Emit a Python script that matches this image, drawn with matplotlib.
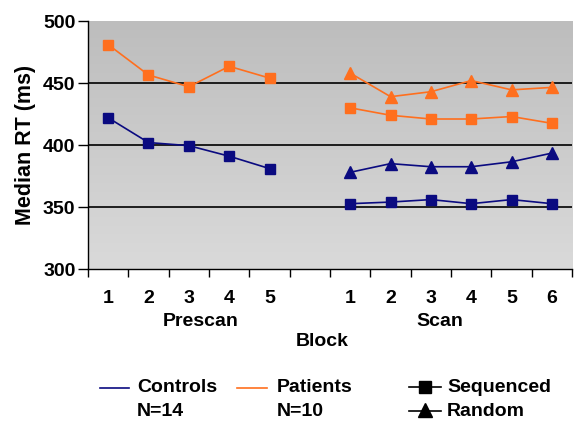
import numpy as np
import matplotlib.pyplot as plt
from matplotlib.lines import Line2D

plt.rcParams['font.family'] = ['Liberation Sans', 'DejaVu Sans']
plt.rcParams['font.weight'] = 'bold'

navy = '#0a0a80'
orange = '#ff6f1e'

# block positions: prescan 1-5, one empty slot, scan 1-6
pre_x = [0, 1, 2, 3, 4]
scan_x = [6, 7, 8, 9, 10, 11]
tick_labels = ['1', '2', '3', '4', '5', '', '1', '2', '3', '4', '5', '6']

controls_prescan = [422, 402, 399.5, 391, 381]
patients_prescan = [481, 456.5, 447, 463.5, 454]
controls_seq = [352.7, 354, 356, 352.7, 356, 352.7]
controls_rand = [378, 385, 382.5, 382.5, 386.5, 393.5]
patients_seq = [430, 424, 421, 421, 423, 417.5]
patients_rand = [458, 439, 443, 452, 444.5, 446.5]

fs = 14

fig = plt.figure(figsize=(5.75, 4.21), dpi=100)
ax = fig.add_axes([0.153, 0.361, 0.842, 0.589])

# grey gradient background
grad = np.linspace(0, 1, 256).reshape(-1, 1)
cmap = plt.matplotlib.colors.LinearSegmentedColormap.from_list('g', ['#bdbdbd', '#dadada'])
ax.imshow(grad, cmap=cmap, extent=[0, 1, 0, 1], transform=ax.transAxes,
          aspect='auto', zorder=0)

for y in [350, 400, 450]:
    ax.axhline(y, color='black', lw=1.2, zorder=1)

ms_sq = 7.5
ms_tri = 9
ax.plot(pre_x, patients_prescan, color=orange, lw=1.2, marker='s', ms=ms_sq, zorder=3)
ax.plot(pre_x, controls_prescan, color=navy, lw=1.2, marker='s', ms=ms_sq, zorder=3)
ax.plot(scan_x, patients_rand, color=orange, lw=1.2, marker='^', ms=ms_tri, zorder=3)
ax.plot(scan_x, patients_seq, color=orange, lw=1.2, marker='s', ms=ms_sq, zorder=3)
ax.plot(scan_x, controls_rand, color=navy, lw=1.2, marker='^', ms=ms_tri, zorder=3)
ax.plot(scan_x, controls_seq, color=navy, lw=1.2, marker='s', ms=ms_sq, zorder=3)

ax.set_xlim(-0.5, 11.5)
ax.set_ylim(300, 500)
ax.set_yticks([300, 350, 400, 450, 500])
ax.tick_params(axis='y', labelsize=fs, length=7, width=1, direction='out', pad=2)
ax.set_xticks(np.arange(-0.5, 12, 1))
ax.set_xticklabels([])
ax.tick_params(axis='x', which='major', length=6, width=1, direction='out')
ax.set_xticks(np.arange(12), minor=True)
ax.set_xticklabels(tick_labels, minor=True)
ax.tick_params(axis='x', which='minor', length=0, labelsize=fs, pad=15)
for s in ['top', 'right']:
    ax.spines[s].set_visible(False)
ax.spines['left'].set_linewidth(1)
ax.spines['bottom'].set_linewidth(1)

ax.set_ylabel('Median RT (ms)', fontsize=15.5, fontweight='bold', labelpad=5)


def fx(px):
    return px / 575


def fy(py):
    return 1 - py / 421


fig.text(fx(201), fy(322), 'Prescan', ha='center', va='center', fontsize=fs)
fig.text(fx(440), fy(322), 'Scan', ha='center', va='center', fontsize=fs)
fig.text(fx(322), fy(341), 'Block', ha='center', va='center', fontsize=fs)

# legend drawn by hand
fig.add_artist(Line2D([fx(100), fx(129)], [fy(388), fy(388)], color=navy, lw=1.2))
fig.text(fx(137), fy(388), 'Controls', va='center', fontsize=fs)
fig.text(fx(137), fy(412), 'N=14', va='center', fontsize=fs)
fig.add_artist(Line2D([fx(237), fx(267)], [fy(388), fy(388)], color=orange, lw=1.2))
fig.text(fx(277), fy(388), 'Patients', va='center', fontsize=fs)
fig.text(fx(277), fy(412), 'N=10', va='center', fontsize=fs)
fig.add_artist(Line2D([fx(409), fx(441)], [fy(387), fy(387)], color='black', lw=1.2))
fig.add_artist(Line2D([fx(425)], [fy(387)], color='black', marker='s', ms=ms_sq + 1))
fig.text(fx(447), fy(387), 'Sequenced', va='center', fontsize=fs)
fig.add_artist(Line2D([fx(409), fx(441)], [fy(411), fy(411)], color='black', lw=1.2))
fig.add_artist(Line2D([fx(425)], [fy(410)], color='black', marker='^', ms=ms_tri + 1))
fig.text(fx(447), fy(411), 'Random', va='center', fontsize=fs)

fig.savefig('out.png', dpi=100)
